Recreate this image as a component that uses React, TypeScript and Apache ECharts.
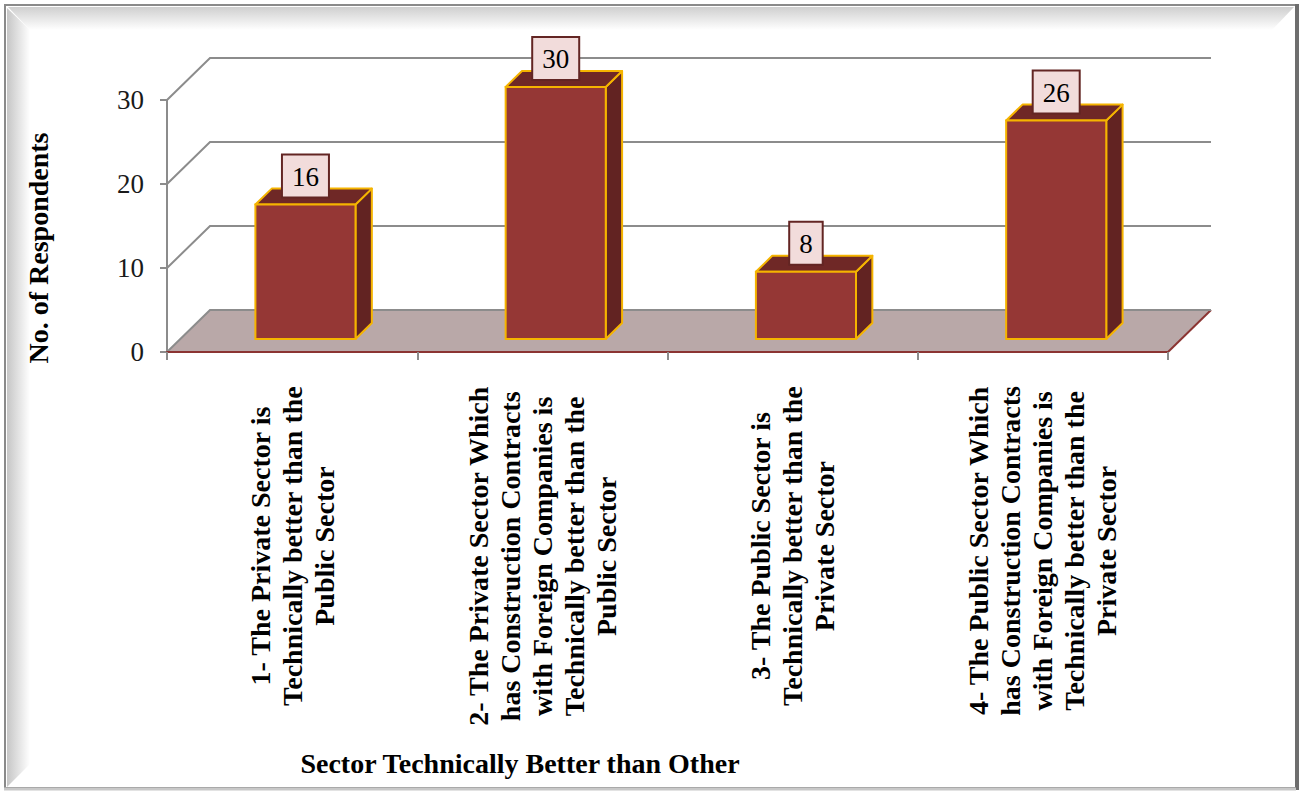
import React, { useEffect, useRef } from "react";
import * as echarts from "echarts";

const categories = [
  "1- The Private Sector is\nTechnically better than the\nPublic Sector",
  "2- The Private Sector Which\nhas Construction Contracts\nwith Foreign Companies is\nTechnically better than the\nPublic Sector",
  "3- The Public Sector is\nTechnically better than the\nPrivate Sector",
  "4- The Public Sector Which\nhas Construction Contracts\nwith Foreign Companies is\nTechnically better than the\nPrivate Sector",
];
const respondents = [16, 30, 8, 26];
const yTicks = [0, 10, 20, 30];
const yAxisTitle = "No. of Respondents";
const xAxisTitle = "Sector Technically Better than Other";

const FONT = '"Liberation Serif", "Times New Roman", serif';
const DX = 43;
const DY = 42;
const F0 = 0.31;
const F1 = 0.69;

export default function App() {
  const ref = useRef<HTMLDivElement>(null);
  useEffect(() => {
    const chart = echarts.init(ref.current!, null, { renderer: "svg" });
    const option: any = {
      animation: false,
      backgroundColor: "#ffffff",
      grid: { left: 167, right: 132, top: 100, bottom: 439, containLabel: false },
      xAxis: {
        type: "category",
        data: categories,
        boundaryGap: true,
        z: 5,
        axisLine: { show: true, lineStyle: { color: "#8b3432", width: 2 } },
        axisTick: { show: true, length: 8, lineStyle: { color: "#8c8c8c", width: 2 } },
        axisLabel: {
          interval: 0,
          rotate: 90,
          margin: 34,
          formatter: (s: string) => s.split("\n").map((l) => `{a|${l}}`).join("\n"),
          rich: {
            a: { align: "center", fontSize: 28, fontWeight: "bold", fontFamily: FONT, lineHeight: 32, color: "#000" },
          },
        },
        splitLine: { show: false },
      },
      yAxis: {
        type: "value",
        min: 0,
        max: 30,
        interval: 10,
        axisLine: { show: true, lineStyle: { color: "#8c8c8c", width: 2 } },
        axisTick: { show: true, length: 7, lineStyle: { color: "#8c8c8c", width: 2 } },
        axisLabel: { margin: 23, fontSize: 27, fontFamily: FONT, color: "#1a1a1a" },
        splitLine: { show: false },
      },
      graphic: [
        {
          type: "polygon",
          shape: { points: [[8, 7], [1294, 7], [1272, 30], [30, 30]] },
          style: {
            fill: new echarts.graphic.LinearGradient(0, 0, 0, 1, [
              { offset: 0, color: "#cfcfcf" },
              { offset: 1, color: "#ffffff" },
            ]),
          },
          silent: true,
        },
        {
          type: "polygon",
          shape: { points: [[7, 8], [30, 30], [30, 764], [7, 787]] },
          style: {
            fill: new echarts.graphic.LinearGradient(0, 0, 1, 0, [
              { offset: 0, color: "#c6c6c6" },
              { offset: 1, color: "#ffffff" },
            ]),
          },
          silent: true,
        },
        {
          type: "rect",
          shape: { x: 5, y: 5, width: 1291, height: 783 },
          style: { fill: "none", stroke: "#8a8a8a", lineWidth: 2 },
          silent: true,
        },
        {
          type: "line",
          shape: { x1: 1297, y1: 4, x2: 1297, y2: 790 },
          style: { stroke: "#6e6e6e", lineWidth: 4 },
          silent: true,
        },
        {
          type: "line",
          shape: { x1: 4, y1: 789, x2: 1296, y2: 789 },
          style: { stroke: "#c8c8c8", lineWidth: 3 },
          silent: true,
        },
        {
          type: "text",
          x: 38,
          y: 248,
          rotation: Math.PI / 2,
          style: {
            text: yAxisTitle,
            font: `bold 28px ${FONT}`,
            fill: "#000",
            align: "center",
            verticalAlign: "middle",
          },
        },
        {
          type: "text",
          x: 520,
          y: 763,
          style: {
            text: xAxisTitle,
            font: `bold 28px ${FONT}`,
            fill: "#000",
            align: "center",
            verticalAlign: "middle",
          },
        },
      ],
      series: [
        {
          type: "custom",
          name: "floor",
          z: 1,
          clip: false,
          data: [[0, 0]],
          encode: { x: 0, y: 1 },
          renderItem: (params: any, api: any) => {
            const cs = params.coordSys;
            const base = api.coord([0, 0]);
            const x0 = cs.x;
            const x1 = cs.x + cs.width;
            const y0 = base[1];
            return {
              type: "group",
              children: [
                {
                  type: "polygon",
                  shape: { points: [[x0, y0], [x0 + DX, y0 - DY], [x1 + DX, y0 - DY], [x1, y0]] },
                  style: { fill: "#b9a8a8" },
                },
                {
                  type: "line",
                  shape: { x1: x1, y1: y0, x2: x1 + DX, y2: y0 - DY },
                  style: { stroke: "#8b3432", lineWidth: 2 },
                },
              ],
            };
          },
        },
        {
          type: "custom",
          name: "walls",
          z: 2,
          clip: false,
          data: yTicks.map((v) => [0, v]),
          encode: { x: 0, y: 1 },
          renderItem: (params: any, api: any) => {
            const cs = params.coordSys;
            const y = api.coord([0, api.value(1)])[1];
            const x0 = cs.x;
            const x1 = cs.x + cs.width;
            return {
              type: "polyline",
              shape: { points: [[x0, y], [x0 + DX, y - DY], [x1 + DX, y - DY]] },
              style: { stroke: "#8c8c8c", lineWidth: 2, fill: "none" },
            };
          },
        },
        {
          type: "custom",
          name: "No. of Respondents",
          z: 3,
          clip: false,
          data: respondents.map((v, i) => [i, v]),
          encode: { x: 0, y: 1 },
          renderItem: (params: any, api: any) => {
            const i = api.value(0);
            const v = api.value(1);
            const top = api.coord([i, v]);
            const base = api.coord([i, 0]);
            const w = api.size([1, 0])[0] * 0.4;
            const fx = DX * F0;
            const fy = DY * F0;
            const dx = DX * (F1 - F0);
            const dy = DY * (F1 - F0);
            const xl = top[0] - w / 2 + fx;
            const xr = xl + w;
            const yt = top[1] - fy;
            const yb = base[1] - fy;
            const edge = "#f5b400";
            return {
              type: "group",
              children: [
                {
                  type: "polygon",
                  shape: { points: [[xr, yt], [xr + dx, yt - dy], [xr + dx, yb - dy], [xr, yb]] },
                  style: { fill: "#622322", stroke: edge, lineWidth: 2, lineJoin: "round" },
                },
                {
                  type: "polygon",
                  shape: { points: [[xl, yt], [xl + dx, yt - dy], [xr + dx, yt - dy], [xr, yt]] },
                  style: { fill: "#6f2826", stroke: edge, lineWidth: 2, lineJoin: "round" },
                },
                {
                  type: "rect",
                  shape: { x: xl, y: yt, width: w, height: yb - yt },
                  style: { fill: "#953735", stroke: edge, lineWidth: 2 },
                },
                {
                  type: "text",
                  x: xl + w / 2,
                  y: yt - 8,
                  style: {
                    text: String(v),
                    font: `27px ${FONT}`,
                    fill: "#000",
                    align: "center",
                    verticalAlign: "bottom",
                    backgroundColor: "#f2dcdb",
                    borderColor: "#632523",
                    borderWidth: 2,
                    padding: [6, 9, 5, 9],
                    lineHeight: 30,
                  },
                },
              ],
            };
          },
        },
      ],
    };
    chart.setOption(option);
    return () => chart.dispose();
  }, []);
  return (
    <div
      ref={ref}
      style={{ position: "fixed", left: 0, top: 0, width: 1300, height: 791, background: "#fff" }}
    />
  );
}
